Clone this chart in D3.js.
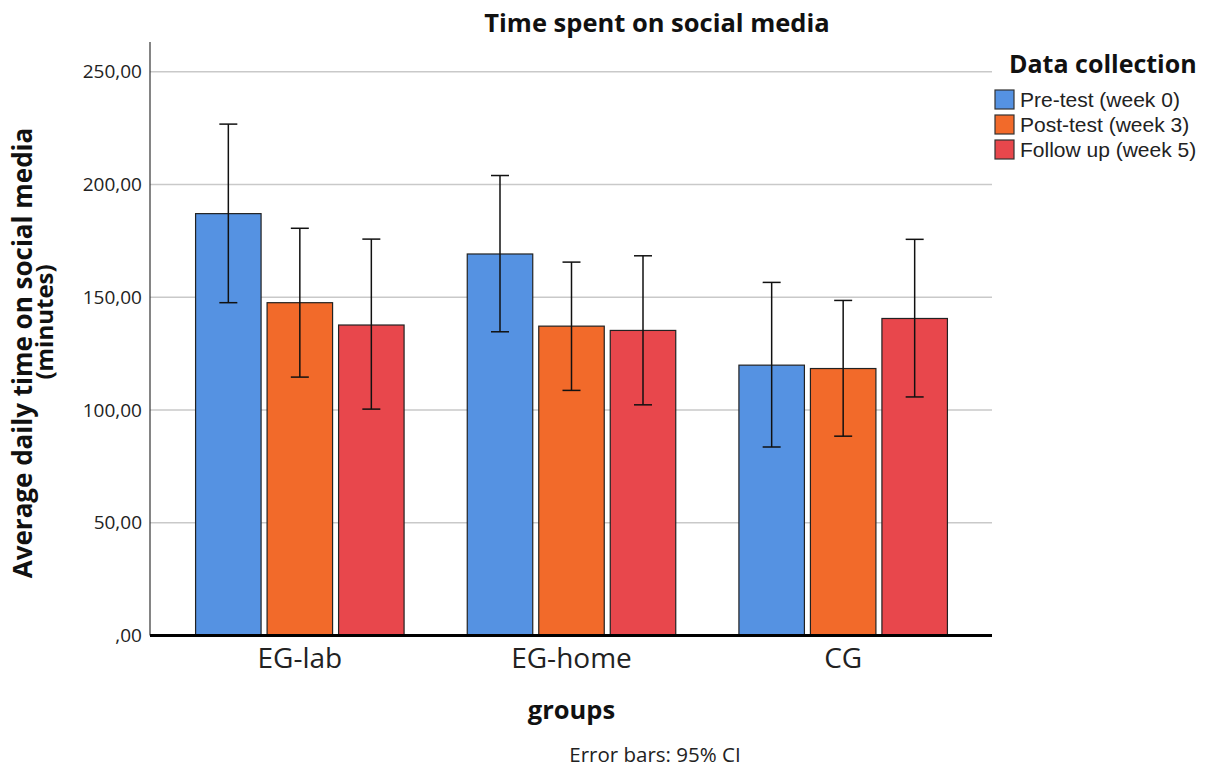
<!DOCTYPE html>
<html>
<head>
<meta charset="utf-8">
<script src="https://cdn.jsdelivr.net/npm/d3@7"></script>
<style>
  body { margin: 0; background: #fff; }
  svg { display: block; font-family: "Open Sans", "DejaVu Sans", sans-serif; }
</style>
</head>
<body>
<svg width="1212" height="767"></svg>
<script>
// chart values
var groups = ["EG-lab", "EG-home", "CG"]
var series = ["Pre-test (week 0)", "Post-test (week 3)", "Follow up (week 5)"]
var colors = ["#5592e2", "#f26a2a", "#e8474c"]

// mean per group, one array per series
var preMean = [187.1, 169.2, 119.9]
var postMean = [147.6, 137.2, 118.4]
var followMean = [137.7, 135.3, 140.6]

// 95% CI bounds
var preLow = [147.6, 134.7, 83.6]
var preHigh = [226.8, 204.0, 156.6]
var postLow = [114.6, 108.7, 88.4]
var postHigh = [180.6, 165.6, 148.6]
var followLow = [100.4, 102.3, 105.8]
var followHigh = [175.8, 168.4, 175.7]

var yTicks = [0, 50, 100, 150, 200, 250]

var means = [preMean, postMean, followMean],
	lows = [preLow, postLow, followLow],
	highs = [preHigh, postHigh, followHigh]

var data = []
groups.forEach(function(g, gi) {
	series.forEach(function(s, si) {
		data.push({ group: g, series: s, color: colors[si],
			mean: means[si][gi], low: lows[si][gi], high: highs[si][gi] })
	})
})

var svg = d3.select("svg")

// plot area (plotTop, not "top" - that one is taken by window.top)
var plotLeft = 150, plotRight = 992, plotTop = 42, plotBottom = 635.5

var y = d3.scaleLinear().domain([0, 250]).range([plotBottom, 71.8])

var x0 = d3.scaleBand().domain(groups).range([164, 979])
var groupWidth = 208.5
var x1 = d3.scaleBand().domain(series).range([0, groupWidth]).paddingInner(0.084)
var offset = (x0.bandwidth() - groupWidth) / 2

// gridlines
svg.append("g")
	.selectAll("line")
	.data(yTicks.filter(function(d) { return d > 0 }))
	.enter().append("line")
		.attr("x1", plotLeft).attr("x2", plotRight)
		.attr("y1", function(d) { return y(d) })
		.attr("y2", function(d) { return y(d) })
		.attr("stroke", "#c9c9c9")
		.attr("stroke-width", 1.5)

// y axis
var fmt = function(d) { return d === 0 ? ",00" : d.toFixed(2).replace(".", ",") }
var yAxis = svg.append("g")
	.attr("transform", "translate(" + plotLeft + ",0)")
	.call(d3.axisLeft(y).tickValues(yTicks).tickFormat(fmt).tickSize(0).tickPadding(8))
yAxis.select(".domain").remove()
yAxis.selectAll("text")
	.attr("font-size", 19)
	.attr("font-family", "Open Sans, sans-serif")
	.attr("fill", "#222")

svg.append("line")
	.attr("x1", plotLeft).attr("x2", plotLeft)
	.attr("y1", plotTop).attr("y2", plotBottom)
	.attr("stroke", "#333").attr("stroke-width", 1.2)

// bars
svg.append("g")
	.selectAll("rect")
	.data(data)
	.enter().append("rect")
		.attr("x", function(d) { return x0(d.group) + offset + x1(d.series) })
		.attr("y", function(d) { return y(d.mean) })
		.attr("width", x1.bandwidth())
		.attr("height", function(d) { return y(0) - y(d.mean) })
		.attr("fill", function(d) { return d.color })
		.attr("stroke", "#222")
		.attr("stroke-width", 1.2)

// error bars
var eb = svg.append("g")
	.selectAll("g")
	.data(data)
	.enter().append("g")
		.attr("transform", function(d) {
			return "translate(" + (x0(d.group) + offset + x1(d.series) + x1.bandwidth() / 2) + ",0)"
		})
eb.append("line")
	.attr("y1", function(d) { return y(d.low) })
	.attr("y2", function(d) { return y(d.high) })
	.attr("stroke", "#111").attr("stroke-width", 1.5)
eb.append("line")
	.attr("x1", -9).attr("x2", 9)
	.attr("y1", function(d) { return y(d.high) })
	.attr("y2", function(d) { return y(d.high) })
	.attr("stroke", "#111").attr("stroke-width", 1.5)
eb.append("line")
	.attr("x1", -9).attr("x2", 9)
	.attr("y1", function(d) { return y(d.low) })
	.attr("y2", function(d) { return y(d.low) })
	.attr("stroke", "#111").attr("stroke-width", 1.5)

// baseline
svg.append("line")
	.attr("x1", plotLeft).attr("x2", plotRight)
	.attr("y1", y(0)).attr("y2", y(0))
	.attr("stroke", "#000").attr("stroke-width", 3)

// x axis labels
var xAxis = svg.append("g")
	.attr("transform", "translate(0," + plotBottom + ")")
	.call(d3.axisBottom(x0).tickSize(0).tickPadding(13))
xAxis.select(".domain").remove()
xAxis.selectAll("text")
	.attr("font-size", 28)
	.attr("font-family", "Open Sans, sans-serif")
	.attr("fill", "#222")

// titles
svg.append("text")
	.attr("x", 657).attr("y", 32)
	.attr("text-anchor", "middle")
	.attr("font-size", 25.5).attr("font-weight", "bold")
	.attr("fill", "#111")
	.text("Time spent on social media")

svg.append("text")
	.attr("x", 571.5).attr("y", 719)
	.attr("text-anchor", "middle")
	.attr("font-size", 25.5).attr("font-weight", "bold")
	.attr("fill", "#111")
	.text("groups")

svg.append("text")
	.attr("x", 655).attr("y", 762)
	.attr("text-anchor", "middle")
	.attr("font-size", 20.5)
	.attr("fill", "#222")
	.text("Error bars: 95% CI")

svg.append("text")
	.attr("transform", "translate(32,353) rotate(-90)")
	.attr("text-anchor", "middle")
	.attr("font-size", 26).attr("font-weight", "bold")
	.attr("fill", "#111")
	.text("Average daily time on social media")

svg.append("text")
	.attr("transform", "translate(53,322) rotate(-90)")
	.attr("text-anchor", "middle")
	.attr("font-size", 24).attr("font-weight", "bold")
	.attr("fill", "#111")
	.text("(minutes)")

// legend
var legend = svg.append("g").attr("transform", "translate(995,0)")
legend.append("text")
	.attr("x", 14).attr("y", 73)
	.attr("font-size", 25).attr("font-weight", "bold")
	.attr("fill", "#111")
	.text("Data collection")

var item = legend.selectAll(".item")
	.data(series)
	.enter().append("g")
		.attr("class", "item")
		.attr("transform", function(d, i) { return "translate(0," + (90 + i * 25) + ")" })
item.append("rect")
	.attr("width", 19).attr("height", 19)
	.attr("fill", function(d, i) { return colors[i] })
	.attr("stroke", "#333").attr("stroke-width", 1.2)
// tighter font metrics here so the rows (25px apart) do not collide
item.append("text")
	.attr("x", 25).attr("y", 16.5)
	.attr("font-size", 21)
	.attr("font-family", "Liberation Sans, Arial, sans-serif")
	.attr("fill", "#222")
	.text(function(d) { return d })
</script>
</body>
</html>
